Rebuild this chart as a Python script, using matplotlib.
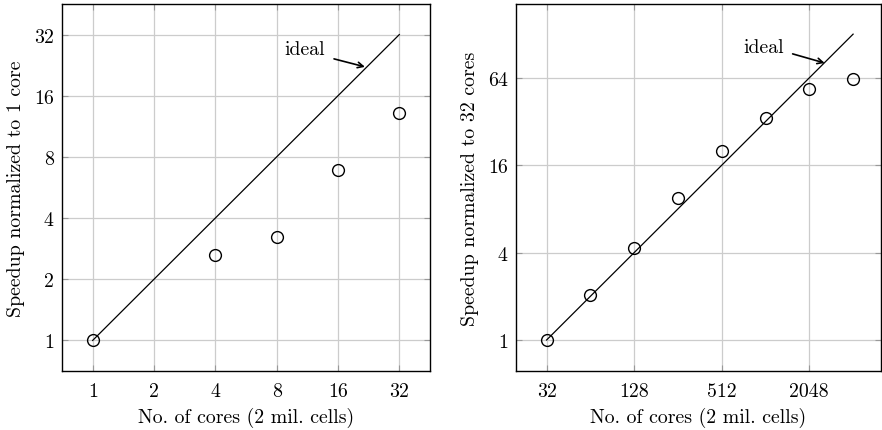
import matplotlib
matplotlib.use("Agg")
import matplotlib.pyplot as plt
import numpy as np

plt.rcParams["font.family"] = "cmr10"
plt.rcParams["mathtext.fontset"] = "cm"
plt.rcParams["axes.formatter.use_mathtext"] = True
FS = 14.3

# Left: strong scaling, 1..32 cores
cores_a = [1, 4, 8, 16, 32]
speedup_a = [1.0, 2.62, 3.23, 6.86, 13.1]
ideal_a = [1, 32]
xticks_a = [1, 2, 4, 8, 16, 32]
yticks_a = [1, 2, 4, 8, 16, 32]

# Right: 32..4096 cores, normalized to 32
cores_b = [32, 64, 128, 256, 512, 1024, 2048, 4096]
speedup_b = [1.0, 2.05, 4.27, 9.5, 19.9, 33.8, 53.6, 62.8]
ideal_b_x = [32, 4096]
ideal_b_y = [1, 128]
xticks_b = [32, 128, 512, 2048]
yticks_b = [1, 4, 16, 64]

fig = plt.figure(figsize=(8.82, 4.31), dpi=100)
ax1 = fig.add_axes([0.0703, 0.1369, 0.4172, 0.8515])
ax2 = fig.add_axes([0.585, 0.1369, 0.4135, 0.8515])


def style(ax, xticks, yticks):
    ax.set_xscale("log", base=2)
    ax.set_yscale("log", base=2)
    ax.set_xticks(xticks)
    ax.set_xticklabels([str(t) for t in xticks])
    ax.set_yticks(yticks)
    ax.set_yticklabels([str(t) for t in yticks])
    ax.minorticks_off()
    ax.grid(True, color="#cccccc", linewidth=0.9)
    ax.set_axisbelow(True)
    ax.tick_params(direction="in", length=4, color="#999999",
                   top=True, right=True, labelsize=FS, pad=6)
    ax.tick_params(axis="x", pad=8)
    for sp in ax.spines.values():
        sp.set_linewidth(1.0)
    ax.set_xlabel("No. of cores (2 mil. cells)", fontsize=FS, labelpad=5)


def ideal_note(ax, text_xy, tail, head):
    ax.text(text_xy[0], text_xy[1], "ideal", ha="right", va="center",
            fontsize=FS)
    ax.annotate("", xy=head, xytext=tail,
                arrowprops=dict(arrowstyle="->", color="black", lw=1.2,
                                shrinkA=0, shrinkB=0))


style(ax1, xticks_a, yticks_a)
ax1.plot(ideal_a, ideal_a, color="black", linewidth=0.9)
ax1.plot(cores_a, speedup_a, "o", mfc="none", mec="black", ms=8.5, mew=1.0)
ax1.set_xlim(2 ** -0.5, 2 ** 5.5)
ax1.set_ylim(2 ** -0.5, 2 ** 5.5)
ax1.set_ylabel("Speedup normalized to 1 core", fontsize=FS, labelpad=6)
ideal_note(ax1, (13.8, 27.1), (15.3, 24.3), (21.7, 22.2))

style(ax2, xticks_b, yticks_b)
ax2.plot(ideal_b_x, ideal_b_y, color="black", linewidth=0.9)
ax2.plot(cores_b, speedup_b, "o", mfc="none", mec="black", ms=8.5, mew=1.0)
ax2.set_xlim(2 ** 4.3, 2 ** 12.63)
ax2.set_ylim(2 ** -0.71, 2 ** 7.69)
ax2.set_ylabel("Speedup normalized to 32 cores", fontsize=FS, labelpad=6)
ideal_note(ax2, (1370, 104), (1573, 93.6), (2610, 81))

fig.savefig("out.png", dpi=100)
